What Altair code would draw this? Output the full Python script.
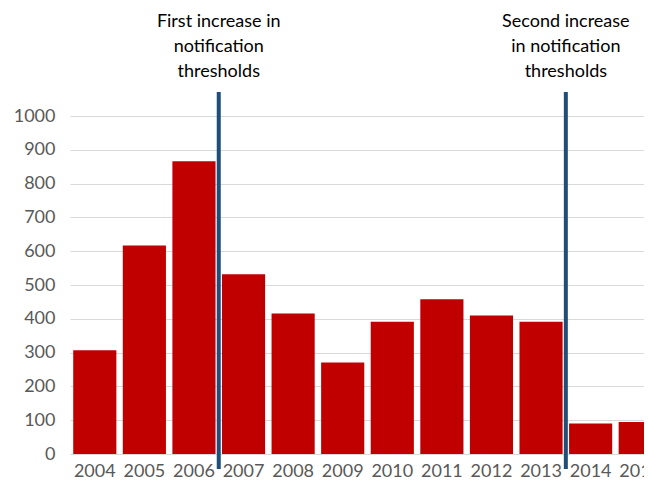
import altair as alt
import pandas as pd

years = ["2004", "2005", "2006", "2007", "2008", "2009", "2010", "2011", "2012", "2013", "2014", "2015"]
values = [307, 617, 866, 532, 416, 271, 391, 458, 410, 391, 90, 95]

line_years = ["2007", "2014"]
ann_text = [["First increase in", "notification", "thresholds"],
            ["Second increase", "in notification", "thresholds"]]

df = pd.DataFrame({"year": years, "value": values})
lines = pd.DataFrame({"year": line_years})
ann = pd.DataFrame({"year": line_years, "text": ann_text})

FONT = "Lato"
GREY = "#595959"
PI = 0.13
BAND_RANGE = 595   # full band range (extends past the visible view, as in the cropped original)
W = 574            # visible plot width

xscale = alt.Scale(domain=years, paddingInner=PI, paddingOuter=PI / 2, range=[0, BAND_RANGE])
yscale = alt.Scale(domain=[0, 1000])

bars = alt.Chart(df).mark_bar(color="#C00000").encode(
    x=alt.X("year:N", scale=xscale, sort=years,
            axis=alt.Axis(title=None, labelAngle=0, labelFont=FONT, labelFontSize=18,
                          labelColor=GREY, ticks=False, domain=False, labelPadding=8,
                          grid=False, labelOverlap=False)),
    y=alt.Y("value:Q", scale=yscale,
            axis=alt.Axis(title=None, values=list(range(0, 1001, 100)), format="d",
                          labelFont=FONT, labelFontSize=18, labelColor=GREY, ticks=False,
                          domain=False, labelPadding=15, gridColor="#d9d9d9", gridWidth=1)),
)

step = BAND_RANGE / (len(years) - PI + PI)
off = -step * PI / 2

rules = alt.Chart(lines).mark_rule(color="#1F4E79", strokeWidth=4, xOffset=off).encode(
    x=alt.X("year:N", scale=xscale, sort=years, bandPosition=0),
    y=alt.value(-24),
    y2=alt.value(353),
)

texts = alt.Chart(ann).mark_text(font=FONT, fontSize=18, color="#000000", baseline="middle",
                                 lineHeight=25, xOffset=off).encode(
    x=alt.X("year:N", scale=xscale, sort=years, bandPosition=0),
    y=alt.value(-94),
    text="text",
)

chart = alt.layer(bars, rules, texts).properties(
    width=W, height=338,
    autosize=alt.AutoSizeParams(type="none"),
    padding={"left": 62, "top": 108, "right": 0, "bottom": 26},
).configure_view(stroke=None)

chart.save("out.html", embed_options={"renderer": "svg", "actions": False})
